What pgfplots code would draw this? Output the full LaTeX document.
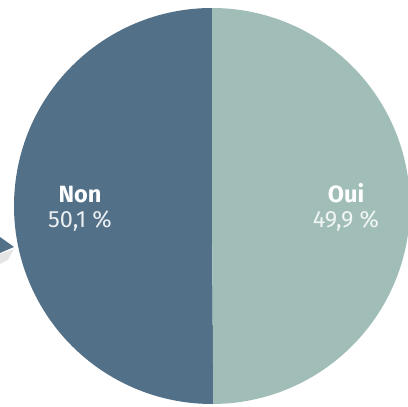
\documentclass[border=0pt]{standalone}
\usepackage{pgfplots}
\pgfplotsset{compat=1.18}
\usepackage{fontspec}
\setmainfont{Fira Sans}

\definecolor{nonc}{HTML}{527088}
\definecolor{ouic}{HTML}{A0BEB7}

% shares in percent
\newcommand\non{50.1}
\newcommand\oui{49.9}

\begin{document}
\begin{tikzpicture}
\pgfmathsetmacro\nonend{90+3.6*\non}
\pgfmathsetmacro\ouiend{\nonend+3.6*\oui}
\begin{axis}[
    x=1pt, y=1pt,
    xmin=0, xmax=408,
    ymin=0, ymax=407,
    hide axis,
    clip=true,
]
% pointer cut off at the left edge
\addplot[draw=none, fill=black!20, opacity=0.5] coordinates {(0,153) (14,158) (8,147) (0,143)} -- cycle;
\addplot[draw=none, fill=nonc] coordinates {(0,170) (14,160) (0,154)} -- cycle;
% slices
\fill[nonc] (axis cs:212,201) -- ++(90:198pt)
    arc[start angle=90, end angle=\nonend, radius=198pt] -- cycle;
\fill[ouic] (axis cs:212,201) -- ++(\nonend:198pt)
    arc[start angle=\nonend, end angle=\ouiend, radius=198pt] -- cycle;
% labels
\node[text=white, font=\fontsize{23.5}{28}\selectfont\bfseries, anchor=base] at (axis cs:80,204) {Non};
\node[text=white!88!nonc, font=\fontsize{23.5}{28}\selectfont, anchor=base] at (axis cs:80,179) {50,1 \%};
\node[text=white, font=\fontsize{23.5}{28}\selectfont\bfseries, anchor=base] at (axis cs:346,204) {Oui};
\node[text=white!85!ouic, font=\fontsize{23.5}{28}\selectfont, anchor=base] at (axis cs:346,179) {49,9 \%};
\end{axis}
\pgfresetboundingbox
\path (current axis.south west) rectangle (current axis.north east);
\end{tikzpicture}
\end{document}
